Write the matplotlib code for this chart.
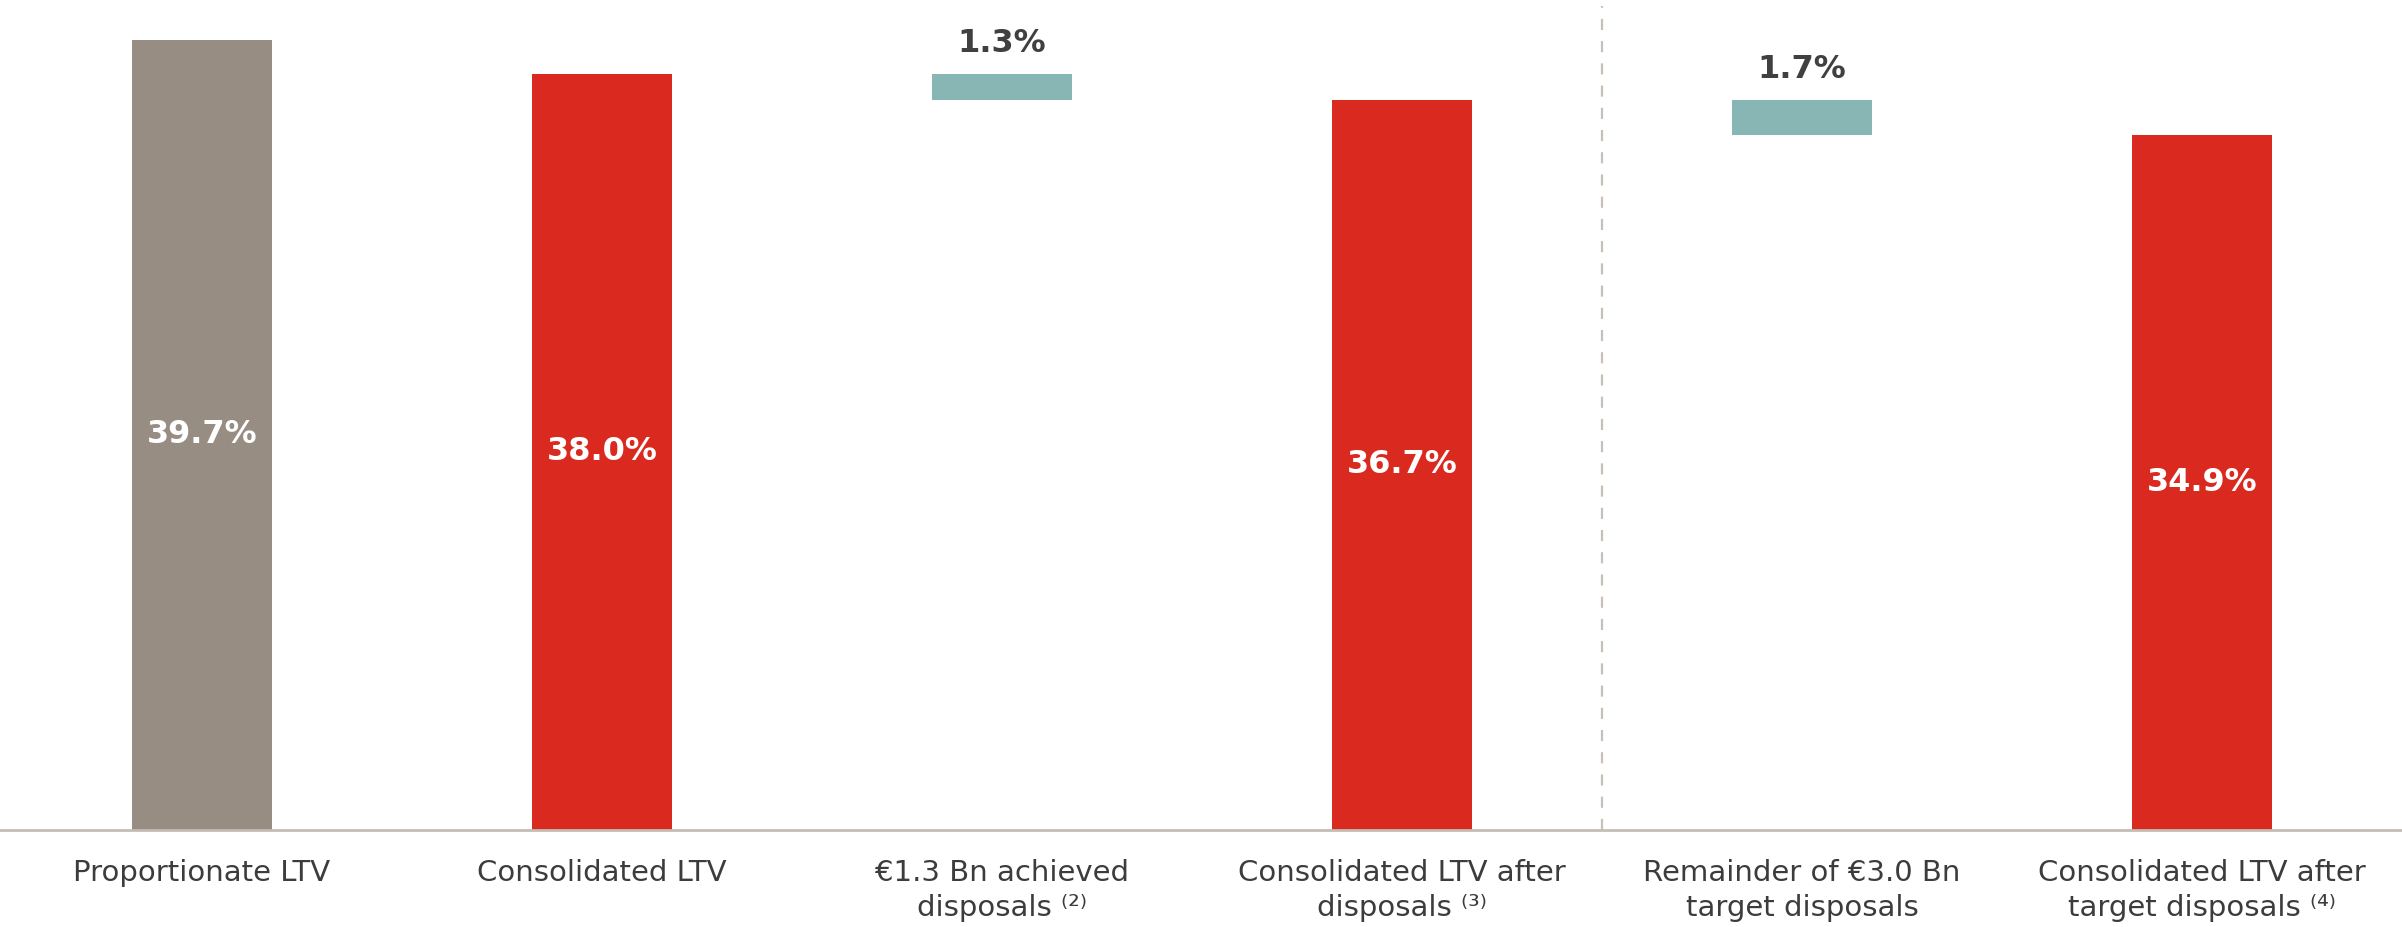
import matplotlib
matplotlib.use("Agg")
import matplotlib.pyplot as plt

categories = [
    "Proportionate LTV",
    "Consolidated LTV",
    "€1.3 Bn achieved\ndisposals ⁽²⁾",
    "Consolidated LTV after\ndisposals ⁽³⁾",
    "Remainder of €3.0 Bn\ntarget disposals",
    "Consolidated LTV after\ntarget disposals ⁽⁴⁾",
]
totals = [39.7, 38.0, None, 36.7, None, 34.9]
steps = [None, None, 1.3, None, 1.7, None]
kinds = ["prop", "total", "step", "total", "step", "total"]

colors = {"prop": "#978d83", "total": "#da291e", "step": "#87b6b5"}

plt.rcParams["font.family"] = ["DejaVu Sans"]

fig = plt.figure(figsize=(24.02, 9.27), dpi=100)
ax = fig.add_axes([0, 0.1046, 1, 0.8954])

x = list(range(len(categories)))
w = 0.352
for i, k in enumerate(kinds):
    if k == "step":
        top = totals[i - 1]
        bottom = totals[i + 1]
        ax.bar(i, top - bottom, bottom=bottom, width=w, color=colors[k], zorder=2)
        ax.text(i, top + 1.5, f"{steps[i]:.1f}%", ha="center", va="center",
                fontsize=23, fontweight="bold", color="#404040")
    else:
        v = totals[i]
        ax.bar(i, v, width=w, color=colors[k], zorder=2)
        ax.text(i, v / 2, f"{v:.1f}%", ha="center", va="center",
                fontsize=23, fontweight="bold", color="white")

ax.axvline(3.5, ymin=0, ymax=0.993, color="#c8c0b8", linestyle=(0, (5, 5)), linewidth=1.6, zorder=1)

ax.set_xlim(-0.505, 5.5)
ax.set_ylim(0, 41.7)
ax.set_xticks(x)
ax.set_xticklabels(categories, fontsize=21, color="#3c3c3c", linespacing=1.3)
ax.tick_params(axis="x", length=0, pad=21)
ax.set_yticks([])
for s in ["top", "left", "right"]:
    ax.spines[s].set_visible(False)
ax.spines["bottom"].set_color("#c4bdb5")
ax.spines["bottom"].set_linewidth(2)
ax.spines["bottom"].set_zorder(3)

fig.savefig("out.png", dpi=100)
